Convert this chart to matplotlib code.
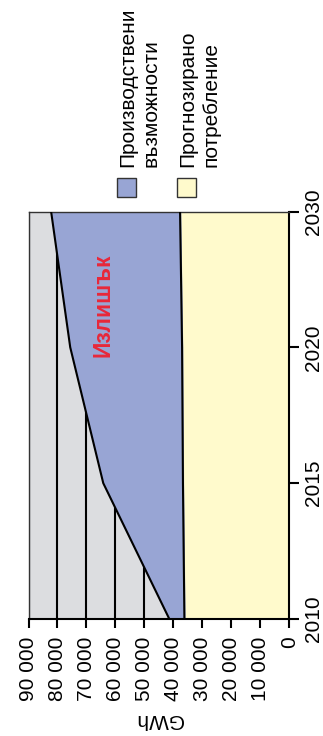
import matplotlib.pyplot as plt
from matplotlib.patches import Rectangle
from matplotlib.ticker import FuncFormatter

years = ['2010', '2015', '2020', '2030']
production = [41400, 64200, 75600, 82200]
consumption = [36200, 36700, 37000, 37700]
surplus_label = 'Излишък'
legend_labels = ['Производствени\nвъзможности', 'Прогнозирано\nпотребление']

blue = '#98a5d4'
yellow = '#fffacc'
grey = '#dcdde0'

plt.rcParams['font.family'] = ['Liberation Sans', 'DejaVu Sans']
plt.rcParams['font.size'] = 15

W, H = 323, 736
fig = plt.figure(figsize=(W / 100, H / 100), dpi=100)
ax = fig.add_axes([28.5 / W, (H - 619) / H, (289.3 - 28.5) / W, (619 - 211.5) / H])
ax.set_facecolor(grey)

pos = list(range(len(years)))
ax.fill_betweenx(pos, 0, consumption, color=yellow, zorder=2)
ax.fill_betweenx(pos, consumption, production, color=blue, zorder=2)
ax.plot(consumption, pos, color='black', lw=1.5, zorder=3)
ax.plot(production, pos, color='black', lw=1.5, zorder=3)

ax.set_xlim(90000, 0)
ax.set_ylim(0, len(years) - 1)
ax.set_xticks(range(0, 90001, 10000))
ax.xaxis.set_major_formatter(FuncFormatter(lambda v, p: f'{v:,.0f}'.replace(',', ' ')))
ax.grid(axis='x', color='black', lw=1.5, zorder=1)
ax.set_axisbelow(True)

ax.yaxis.tick_right()
ax.set_yticks(pos)
ax.set_yticklabels(years, rotation=90, va='center')
ax.tick_params(axis='x', labelrotation=90, length=6.5, width=1.5, pad=6)
ax.tick_params(axis='y', length=7.5, width=1.5, pad=3)
ax.set_xlabel('GWh', rotation=180, labelpad=7)

for side in ['left', 'top']:
    ax.spines[side].set_color('#333333')
    ax.spines[side].set_linewidth(1)
for side in ['bottom', 'right']:
    ax.spines[side].set_linewidth(1.5)

ax.text(64400, 2.31, surplus_label, rotation=90, ha='center', va='center',
        color='#e8283a', fontweight='bold', fontsize=16.5, zorder=4)

# legend drawn by hand, rotated like the rest of the chart
for x0, col, lab in [(117.3, blue, legend_labels[0]), (177.3, yellow, legend_labels[1])]:
    fig.patches.append(Rectangle((x0 / W, (H - 196.7) / H), 18.4 / W, 18.4 / H,
                                 transform=fig.transFigure, facecolor=col,
                                 edgecolor='#333333', lw=1))
    fig.text((x0 + 0.5) / W, (H - 167) / H, lab, rotation=90, rotation_mode='anchor',
             ha='left', va='top', linespacing=1.3)

fig.savefig('out.png', dpi=100)
